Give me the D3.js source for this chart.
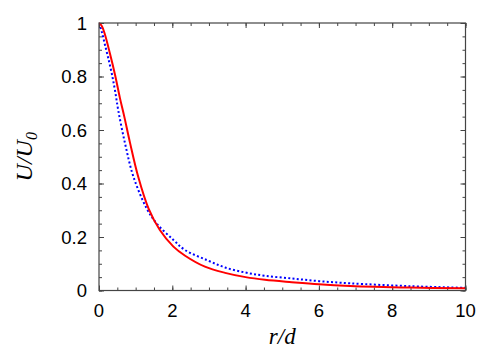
<!DOCTYPE html>
<html>
<head>
<meta charset="utf-8">
<script src="https://cdn.jsdelivr.net/npm/d3@7"></script>
<style>
  body { margin: 0; background: #fff; }
  svg { display: block; }
</style>
</head>
<body>
<svg id="chart" width="498" height="349"></svg>
<script>
// values
var redR = [0, 0.08, 0.16, 0.3, 0.44, 0.57, 0.69, 0.85, 1.07, 1.35, 1.66, 2.03, 2.35, 2.89, 3.44, 4, 4.53, 5.26, 6, 6.85, 8.5, 10];
var redU = [1, 0.988, 0.958, 0.885, 0.805, 0.72, 0.65, 0.55, 0.425, 0.307, 0.226, 0.164, 0.13, 0.089, 0.066, 0.05, 0.04, 0.031, 0.023, 0.017, 0.011, 0.008];

var blueR = [0, 0.07, 0.16, 0.25, 0.35, 0.44, 0.53, 0.71, 0.94, 1.3, 1.57, 2.03, 2.35, 2.94, 3.44, 4, 4.53, 5.26, 6, 6.85, 8.5, 10];
var blueU = [1, 0.97, 0.92, 0.87, 0.81, 0.745, 0.67, 0.55, 0.425, 0.307, 0.251, 0.189, 0.151, 0.114, 0.086, 0.067, 0.055, 0.045, 0.035, 0.027, 0.016, 0.01];

var xTicks = [0, 2, 4, 6, 8, 10];
var yTicks = [0, 0.2, 0.4, 0.6, 0.8, 1];
var yTickLabels = ["0", "0.2", "0.4", "0.6", "0.8", "1"];

var svg = d3.select("#chart");
// note: "top" is taken by window.top, so plot edges get a prefix
var plotL = 99, plotR = 465.5, plotT = 23, plotB = 290.5;

var x = d3.scaleLinear().domain([0, 10]).range([plotL, plotR]);
var y = d3.scaleLinear().domain([0, 1]).range([plotB, plotT]);

var frameColor = "#444";

// minor + major ticks, mirrored on all four sides, pointing inward
var xMinor = d3.range(0, 10.001, 0.5);
var yMinor = d3.range(0, 1.001, 0.05);

svg.append("g").attr("transform", "translate(0," + plotB + ")")
    .call(d3.axisTop(x).tickValues(xMinor).tickSize(3).tickFormat(""));
svg.append("g").attr("transform", "translate(0," + plotT + ")")
    .call(d3.axisBottom(x).tickValues(xMinor).tickSize(3).tickFormat(""));
svg.append("g").attr("transform", "translate(" + plotL + ",0)")
    .call(d3.axisRight(y).tickValues(yMinor).tickSize(3).tickFormat(""));
svg.append("g").attr("transform", "translate(" + plotR + ",0)")
    .call(d3.axisLeft(y).tickValues(yMinor).tickSize(3).tickFormat(""));

svg.append("g").attr("transform", "translate(0," + plotB + ")")
    .call(d3.axisTop(x).tickValues(xTicks).tickSize(5).tickFormat(""));
svg.append("g").attr("transform", "translate(0," + plotT + ")")
    .call(d3.axisBottom(x).tickValues(xTicks).tickSize(5).tickFormat(""));
svg.append("g").attr("transform", "translate(" + plotL + ",0)")
    .call(d3.axisRight(y).tickValues(yTicks).tickSize(5).tickFormat(""));
svg.append("g").attr("transform", "translate(" + plotR + ",0)")
    .call(d3.axisLeft(y).tickValues(yTicks).tickSize(5).tickFormat(""));

svg.selectAll(".domain").remove();
svg.selectAll(".tick line").attr("stroke", frameColor).attr("stroke-width", 1);

// tick labels
svg.append("g").selectAll("text")
    .data(xTicks)
    .enter()
    .append("text")
    .attr("x", function(d) { return x(d); })
    .attr("y", 317)
    .attr("text-anchor", "middle")
    .attr("font-family", "Liberation Sans, Arial, sans-serif")
    .attr("font-size", "18.5px")
    .text(function(d) { return d; });

svg.append("g").selectAll("text")
    .data(yTicks)
    .enter()
    .append("text")
    .attr("x", 87)
    .attr("y", function(d) { return y(d) + 6.5; })
    .attr("text-anchor", "end")
    .attr("font-family", "Liberation Sans, Arial, sans-serif")
    .attr("font-size", "18.5px")
    .text(function(d, i) { return yTickLabels[i]; });

// curves
var line = d3.line()
    .x(function(d) { return x(d[0]); })
    .y(function(d) { return y(d[1]); })
    .curve(d3.curveCatmullRom.alpha(0.5));

svg.append("clipPath").attr("id", "plotclip")
    .append("rect").attr("x", plotL).attr("y", plotT - 2)
    .attr("width", plotR - plotL).attr("height", plotB - plotT + 2);

svg.append("path")
    .datum(d3.zip(blueR, blueU))
    .attr("clip-path", "url(#plotclip)")
    .attr("fill", "none")
    .attr("stroke", "#0000ff")
    .attr("stroke-width", 2)
    .attr("stroke-dasharray", "2,2.3")
    .attr("d", line);

svg.append("path")
    .datum(d3.zip(redR, redU))
    .attr("clip-path", "url(#plotclip)")
    .attr("fill", "none")
    .attr("stroke", "#ff0000")
    .attr("stroke-width", 2)
    .attr("d", line);

// frame
svg.append("rect")
    .attr("x", plotL).attr("y", plotT)
    .attr("width", plotR - plotL).attr("height", plotB - plotT)
    .attr("fill", "none")
    .attr("stroke", frameColor)
    .attr("stroke-width", 1.2);

// axis titles
svg.append("text")
    .attr("x", (plotL + plotR) / 2)
    .attr("y", 344)
    .attr("text-anchor", "middle")
    .attr("font-family", "Liberation Serif, Times New Roman, serif")
    .attr("font-style", "italic")
    .attr("font-size", "23px")
    .text("r/d");

var yt = svg.append("text")
    .attr("transform", "translate(32," + ((plotT + plotB) / 2) + ") rotate(-90)")
    .attr("text-anchor", "middle")
    .attr("font-family", "Liberation Serif, Times New Roman, serif")
    .attr("font-style", "italic")
    .attr("font-size", "24px");
yt.append("tspan").text("U/U");
yt.append("tspan").attr("font-size", "16px").attr("dy", 5).text("0");
</script>
</body>
</html>
